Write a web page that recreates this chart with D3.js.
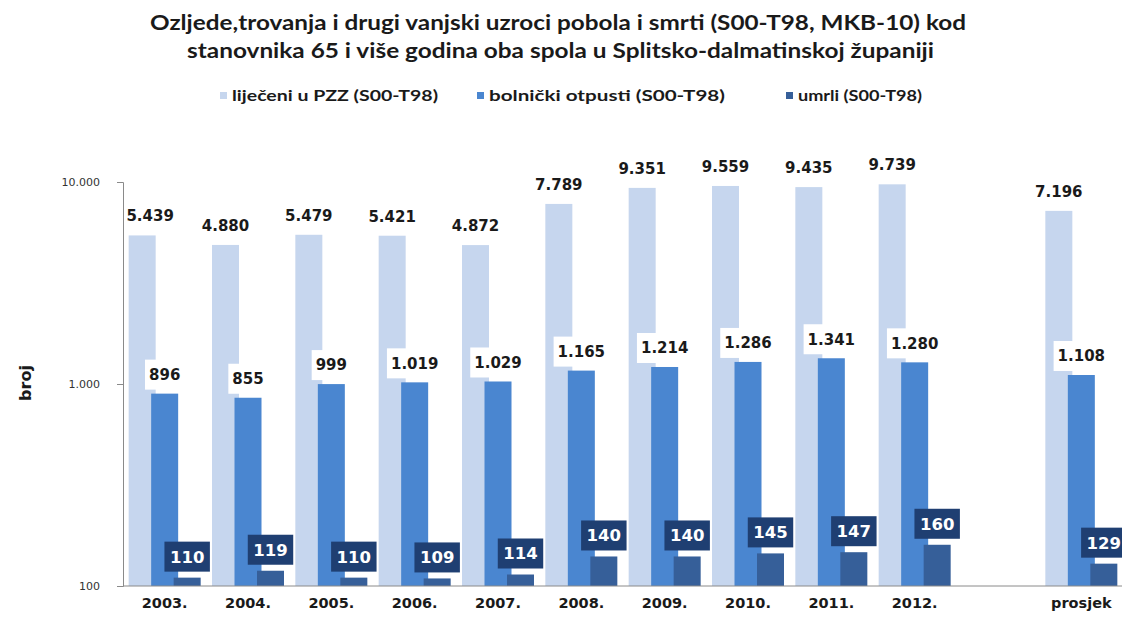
<!DOCTYPE html>
<html>
<head>
<meta charset="utf-8">
<script src="https://cdn.jsdelivr.net/npm/d3@7"></script>
<style>
  html, body { margin: 0; padding: 0; background: #fff; }
  svg { display: block; }
</style>
</head>
<body>
<svg id="chart" width="1122" height="624"></svg>
<script>
// Categories on the x axis (an empty slot separates the yearly bars from the average)
const categories = ["2003.", "2004.", "2005.", "2006.", "2007.", "2008.", "2009.", "2010.", "2011.", "2012.", "", "prosjek"];

// Series values (null = no bar in that slot)
const lijeceniPZZ = [5439, 4880, 5479, 5421, 4872, 7789, 9351, 9559, 9435, 9739, null, 7196];
const bolnickiOtpusti = [896, 855, 999, 1019, 1029, 1165, 1214, 1286, 1341, 1280, null, 1108];
const umrli = [110, 119, 110, 109, 114, 140, 140, 145, 147, 160, null, 129];

const seriesNames = ["liječeni u PZZ (S00-T98)", "bolnički otpusti (S00-T98)", "umrli (S00-T98)"];
const yTicks = [100, 1000, 10000];

const titleLines = [
  "Ozljede,trovanja i drugi vanjski uzroci pobola i smrti (S00-T98, MKB-10) kod",
  "stanovnika 65 i više godina oba spola u Splitsko-dalmatinskoj županiji"
];
const yLabel = "broj";

const colors = ["#c6d6ee", "#4a86d0", "#365f99"];
const darkBox = "#1f3f72";

const hr = d3.formatLocale({ decimal: ",", thousands: ".", grouping: [3], currency: ["", ""] });
const fmt = hr.format(",d");

const svg = d3.select("#chart");

const x = d3.scaleBand().domain(categories).range([123, 1123]).paddingInner(0).paddingOuter(0);
const y = d3.scaleLog().domain([100, 10000]).range([586, 182]);

const barW = 27;
const offsets = [-36, -13.5, 9];
const series = [lijeceniPZZ, bolnickiOtpusti, umrli];

// Title
svg.append("g").selectAll("text").data(titleLines).join("text")
  .attr("x", (d, i) => i === 0 ? 150 : 187)
  .attr("y", (d, i) => 30 + i * 28)
  .attr("textLength", (d, i) => i === 0 ? 816 : 747)
  .attr("lengthAdjust", "spacingAndGlyphs")
  .style("font-family", "Lato, 'Open Sans', sans-serif")
  .style("font-weight", "bold")
  .style("font-size", "20px")
  .style("fill", "#1a1a1a")
  .text(d => d);

// Legend
const legendX = [220, 477, 786];
const legendW = [206, 236, 124];
const legend = svg.append("g");
seriesNames.forEach((name, i) => {
  legend.append("rect")
    .attr("x", legendX[i]).attr("y", 92).attr("width", 7).attr("height", 7)
    .attr("fill", colors[i]);
  legend.append("text")
    .attr("x", legendX[i] + 12).attr("y", 101)
    .attr("textLength", legendW[i]).attr("lengthAdjust", "spacingAndGlyphs")
    .style("font-family", "Lato, 'Open Sans', sans-serif")
    .style("font-weight", "bold").style("font-size", "15px").style("fill", "#1a1a1a")
    .text(name);
});

// Bars
series.forEach((vals, si) => {
  svg.append("g").selectAll("rect")
    .data(categories.map((c, i) => ({ c, v: vals[i] })).filter(d => d.v != null))
    .join("rect")
    .attr("x", d => x(d.c) + x.bandwidth() / 2 + offsets[si])
    .attr("width", barW)
    .attr("y", d => y(d.v))
    .attr("height", d => y(100) - y(d.v))
    .attr("fill", colors[si]);
});

// Y axis
const yAxis = svg.append("g").attr("transform", "translate(123,0)")
  .call(d3.axisLeft(y).tickValues(yTicks).tickFormat(fmt).tickSize(6).tickPadding(17));
yAxis.select(".domain").attr("stroke", "#8a8a8a");
yAxis.selectAll(".tick line").attr("stroke", "#8a8a8a");
yAxis.selectAll(".tick text")
  .style("font-family", "'DejaVu Sans', Verdana, sans-serif")
  .style("font-size", "11px").style("fill", "#333");

// X axis
const xAxis = svg.append("g").attr("transform", "translate(0,586)")
  .call(d3.axisBottom(x).tickSize(0).tickPadding(12));
xAxis.select(".domain").attr("stroke", "#8a8a8a").attr("d", "M123,0H1122");
xAxis.selectAll(".tick text")
  .style("font-family", "'DejaVu Sans', Verdana, sans-serif")
  .style("font-weight", "bold").style("font-size", "14.5px").style("fill", "#1a1a1a");

// Y axis title
svg.append("text")
  .attr("transform", "translate(31,383) rotate(-90)")
  .attr("text-anchor", "middle")
  .style("font-family", "'DejaVu Sans', Verdana, sans-serif")
  .style("font-weight", "bold").style("font-size", "16px").style("fill", "#1a1a1a")
  .text(yLabel);

const labelFont = "'DejaVu Sans', Verdana, sans-serif";

// Labels for the first series: plain text above the bar
svg.append("g").selectAll("text")
  .data(categories.map((c, i) => ({ c, v: lijeceniPZZ[i] })).filter(d => d.v != null))
  .join("text")
  .attr("x", d => x(d.c) + x.bandwidth() / 2 + offsets[0] + barW / 2 + (d.c === "2003." ? 8 : 0))
  .attr("y", d => y(d.v) - 14)
  .attr("text-anchor", "middle")
  .style("font-family", labelFont).style("font-weight", "bold").style("font-size", "15px")
  .style("fill", "#1a1a1a")
  .text(d => fmt(d.v));

// Boxed labels for the other two series
function boxedLabels(vals, si, boxFill, textFill, gap, fontSize, pad) {
  const g = svg.append("g").selectAll("g")
    .data(categories.map((c, i) => ({ c, v: vals[i] })).filter(d => d.v != null))
    .join("g")
    .attr("transform", d => {
      const cx = x(d.c) + x.bandwidth() / 2 + offsets[si] + barW / 2;
      return `translate(${cx},${y(d.v) - gap - 15})`;
    });
  g.append("text")
    .attr("text-anchor", "middle").attr("dy", "0.36em")
    .style("font-family", labelFont).style("font-weight", "bold").style("font-size", fontSize)
    .style("fill", textFill)
    .text(d => fmt(d.v));
  g.each(function () {
    const gg = d3.select(this);
    const w = gg.select("text").node().getComputedTextLength();
    const bw = w + pad;
    gg.insert("rect", "text")
      .attr("x", -bw / 2).attr("y", -15).attr("width", bw).attr("height", 30)
      .attr("fill", boxFill);
  });
}
boxedLabels(bolnickiOtpusti, 1, "#ffffff", "#1a1a1a", 4, "15px", 8);
boxedLabels(umrli, 2, darkBox, "#ffffff", 6, "16.5px", 11);
</script>
</body>
</html>
